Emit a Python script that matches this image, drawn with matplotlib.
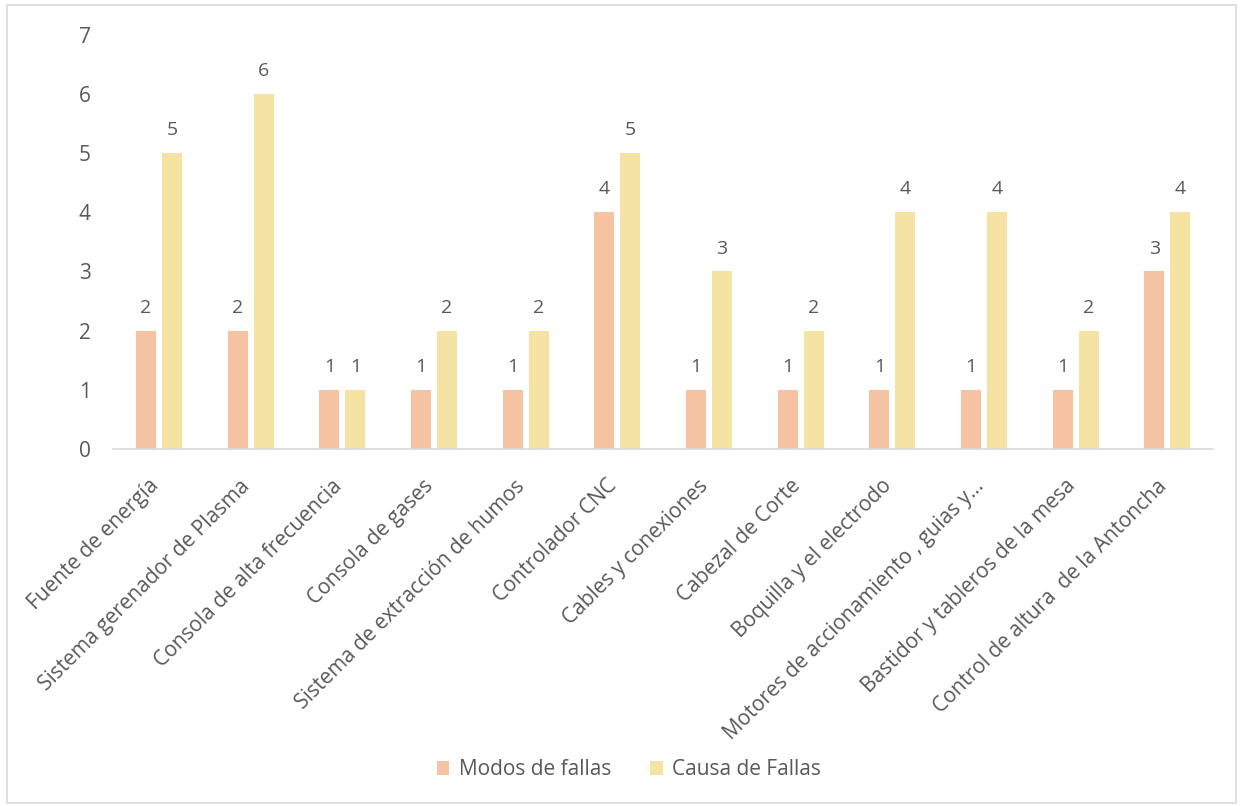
import matplotlib
matplotlib.use("Agg")
import matplotlib.pyplot as plt
import numpy as np
from matplotlib.patches import Rectangle
from matplotlib.transforms import ScaledTranslation

categories = ["Fuente de energía", "Sistema gerenador de Plasma", "Consola de alta frecuencia",
              "Consola de gases", "Sistema de extracción de humos", "Controlador CNC",
              "Cables y conexiones", "Cabezal de Corte", "Boquilla y el electrodo",
              "Motores de accionamiento , guias y...", "Bastidor y tableros de la mesa",
              "Control de altura  de la Antoncha"]
modos = [2, 2, 1, 1, 1, 4, 1, 1, 1, 1, 1, 3]
causas = [5, 6, 1, 2, 2, 5, 3, 2, 4, 4, 2, 4]
series_names = ["Modos de fallas", "Causa de Fallas"]
yticks = [0, 1, 2, 3, 4, 5, 6, 7]

c_modos = "#F5C2A2"
c_causa = "#F5E3A3"
txt = "#595959"

plt.rcParams["font.family"] = ["Open Sans", "DejaVu Sans"]

fig = plt.figure(figsize=(12.43, 8.06), dpi=100)
ax = fig.add_axes([0.091, 0.443, 0.885, 0.514])

x = np.arange(len(categories))
w = 0.22
off = 0.142
b1 = ax.bar(x - off, modos, w, color=c_modos, label=series_names[0])
b2 = ax.bar(x + off, causas, w, color=c_causa, label=series_names[1])
for bars, vals in ((b1, modos), (b2, causas)):
    for r, v in zip(bars, vals):
        ax.annotate(str(v), (r.get_x() + r.get_width() / 2, v), xytext=(0, 10),
                    textcoords="offset points", ha="center", va="bottom",
                    fontsize=14, color=txt)

ax.set_xlim(-0.5, len(categories) - 0.5)
ax.set_ylim(0, 7)
ax.set_yticks(yticks)
ax.set_yticklabels([str(t) for t in yticks], fontsize=15, color=txt)
ax.set_xticks(x)
ax.tick_params(axis="both", length=0)
ax.tick_params(axis="y", pad=16)
ax.tick_params(axis="x", pad=17)
ax.set_xticklabels(categories, rotation=45, ha="right", rotation_mode="anchor",
                   fontsize=15, color=txt)
shift = ScaledTranslation(-11 / 100, -3 / 100, fig.dpi_scale_trans)
for lab in ax.get_xticklabels():
    lab.set_transform(lab.get_transform() + shift)
for s in ["top", "right", "left"]:
    ax.spines[s].set_visible(False)
ax.spines["bottom"].set_color("#D9D9D9")
ax.spines["bottom"].set_linewidth(1.2)

leg = fig.legend(handles=[b1, b2], labels=series_names, loc="center",
                 bbox_to_anchor=(0.506, 0.045), ncol=2, frameon=False,
                 fontsize=15, handlelength=0.6, handleheight=0.6,
                 columnspacing=1.9, handletextpad=0.45)
for t in leg.get_texts():
    t.set_color(txt)

fig.patches.append(Rectangle((0.006, 0.004), 0.988, 0.99, transform=fig.transFigure,
                             fill=False, edgecolor="#D9D9D9", linewidth=1.2))

fig.savefig("out.png", dpi=100)
